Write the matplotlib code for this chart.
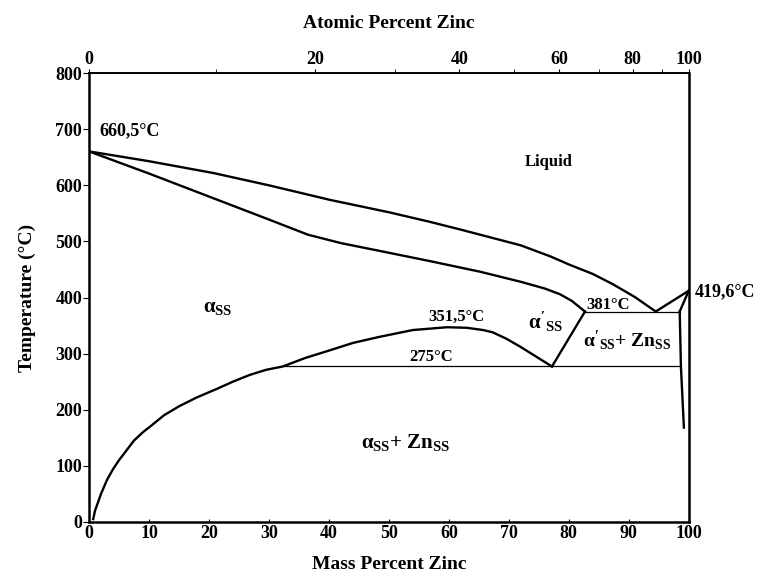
import numpy as np
import matplotlib
matplotlib.use('Agg')
import matplotlib.pyplot as plt

plt.rcParams['font.family'] = ['Liberation Serif', 'DejaVu Serif']
plt.rcParams['font.weight'] = 'bold'
plt.rcParams['mathtext.fontset'] = 'custom'
plt.rcParams['mathtext.rm'] = 'Liberation Serif:bold'
plt.rcParams['mathtext.it'] = 'Liberation Serif:bold'
plt.rcParams['mathtext.bf'] = 'Liberation Serif:bold'

# Phase boundaries, mass % Zn vs temperature (°C)
liquidus_w = [0, 10, 20.7, 30, 40.2, 50, 56.8, 62, 67, 72, 77, 80, 84, 87.3, 91, 94.5]
liquidus_T = [660.5, 643, 622, 600, 574, 552, 535, 521, 507, 493, 473, 459, 442, 424, 401, 375]

solidus_w = [0, 10, 20, 30, 36.5, 42, 48.5, 56.8, 65.2, 72, 76, 78.5, 80.5, 82.7]
solidus_T = [660.5, 621, 580, 539, 512, 497, 483, 465, 446, 428, 416, 406, 394, 375]

solvus_w = [0.7, 1, 1.5, 2, 3, 4, 5, 6, 7.5, 9, 10.2, 12.5, 15, 18, 21.3, 24, 26.8,
            29.5, 32.3, 36, 40.2, 44, 48.5, 54, 59.7, 63, 65.7, 67.3, 69.5, 71.8, 74.5, 77.2]
solvus_T = [5, 20, 35, 50, 75, 94, 110, 124, 145, 160, 170, 190, 206, 222, 237, 250, 262,
            271, 277, 292, 306, 319, 330, 342, 347, 346, 342, 338, 327, 313, 295, 277]

alpha_prime_w = [82.7, 77.2]
alpha_prime_T = [375, 277]

zn_liquidus_w = [94.5, 100]
zn_liquidus_T = [375, 412]
zn_solidus_w = [100, 98.5]
zn_solidus_T = [412, 375]
zn_solvus_w = [98.5, 98.7, 99.2]
zn_solvus_T = [375, 277, 168]

eutectic_w = [82.7, 98.5]
eutectic_T = [375, 375]
monotectoid_w = [32.3, 98.7]
monotectoid_T = [277, 277]

mass_ticks = list(range(0, 101, 10))
temp_ticks = list(range(0, 801, 100))
atomic_major = [0, 20, 40, 60, 80, 100]
atomic_minor = [10, 30, 50, 70, 90]

M_AL, M_ZN = 26.98, 65.38


def mass_to_at(w):
    w = np.asarray(w, dtype=float)
    with np.errstate(divide='ignore', invalid='ignore'):
        return 100 * (w / M_ZN) / (w / M_ZN + (100 - w) / M_AL)


def at_to_mass(a):
    a = np.asarray(a, dtype=float)
    with np.errstate(divide='ignore', invalid='ignore'):
        return 100 * (a * M_ZN) / (a * M_ZN + (100 - a) * M_AL)


fig = plt.figure(figsize=(7.61, 5.76), dpi=100)
ax = fig.add_axes([0.117, 0.094, 0.788, 0.779])

thick = 1.7
thin = 0.9
for xs, ys in [(liquidus_w, liquidus_T), (solidus_w, solidus_T), (solvus_w, solvus_T),
               (alpha_prime_w, alpha_prime_T), (zn_liquidus_w, zn_liquidus_T),
               (zn_solidus_w, zn_solidus_T), (zn_solvus_w, zn_solvus_T)]:
    ax.plot(xs, ys, color='black', lw=thick, solid_joinstyle='round')
ax.plot(eutectic_w, eutectic_T, color='black', lw=thin)
ax.plot(monotectoid_w, monotectoid_T, color='black', lw=thin)

ax.set_xlim(0, 100)
ax.set_ylim(0, 800)
ax.set_xticks(mass_ticks)
ax.set_yticks(temp_ticks)
ax.tick_params(axis='x', direction='in', length=2, labelsize=13, pad=2)
ax.tick_params(axis='y', direction='out', length=4, labelsize=13, pad=1)
for s in ['left', 'right', 'bottom']:
    ax.spines[s].set_linewidth(1.8)
ax.spines['top'].set_linewidth(1.2)

ax.set_xlabel('Mass Percent Zinc', fontsize=14, fontweight='bold', labelpad=10)
ax.set_ylabel('Temperature (°C)', fontsize=14, fontweight='bold', labelpad=14)

secax = ax.secondary_xaxis('top', functions=(mass_to_at, at_to_mass))
secax.set_xticks(atomic_major)
secax.set_xticks(atomic_minor, minor=True)
secax.tick_params(which='both', direction='out', length=3, labelsize=13, pad=1)
secax.spines['top'].set_linewidth(1.2)
secax.set_xlabel('Atomic Percent Zinc', fontsize=14, fontweight='bold', labelpad=16)

ax.text(1.8, 697, '660,5°C', fontsize=13, ha='left', va='center')
ax.text(76.7, 642, 'Liquid', fontsize=12, ha='center', va='center')
ax.text(21.5, 383, r'$\alpha_{SS}$', fontsize=15, ha='center', va='center')
ax.text(61.3, 365, '351,5°C', fontsize=12, ha='center', va='center')
ax.text(76.2, 356, r"$\alpha'_{SS}$", fontsize=15, ha='center', va='center')
ax.text(86.5, 387, '381°C', fontsize=12, ha='center', va='center')
ax.text(101, 410, '419,6°C', fontsize=13, ha='left', va='center', clip_on=False)
ax.text(89.8, 324, r"$\alpha'_{SS}$+ Zn$_{SS}$", fontsize=14, ha='center', va='center')
ax.text(57.1, 294, '275°C', fontsize=12, ha='center', va='center')
ax.text(52.7, 141, r'$\alpha_{SS}$+ Zn$_{SS}$', fontsize=15, ha='center', va='center')

plt.savefig('out.png', dpi=100)
